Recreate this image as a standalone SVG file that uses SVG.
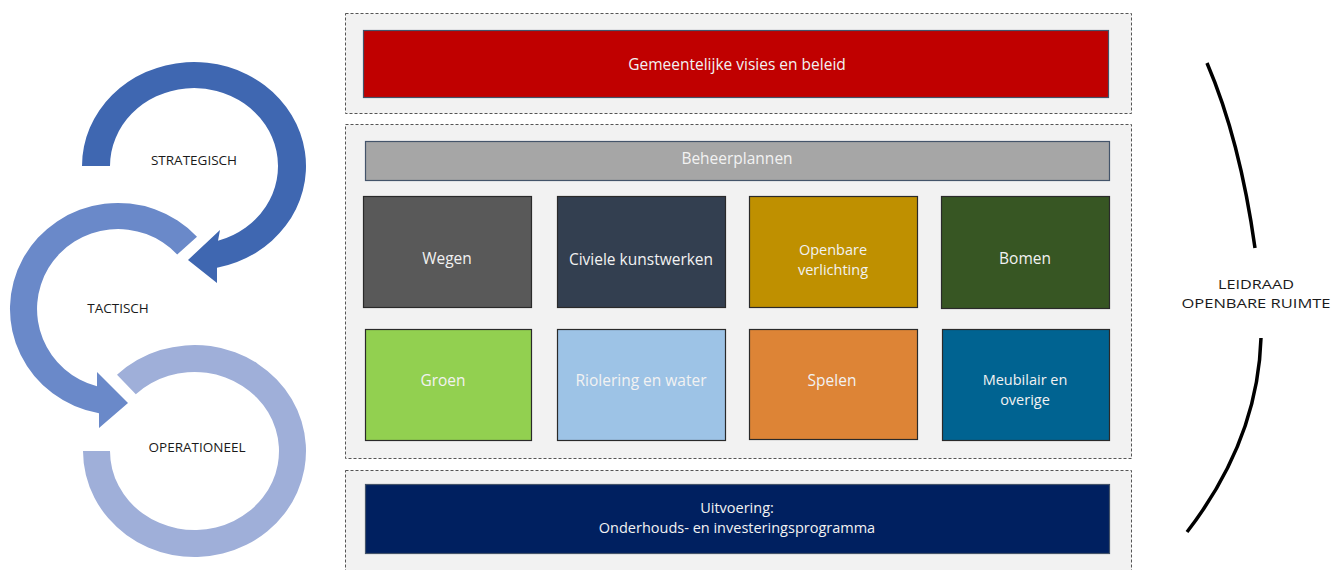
<svg xmlns="http://www.w3.org/2000/svg" width="1338" height="570" viewBox="0 0 1338 570">
<style>
.panel{fill:#f2f2f2;stroke:#555;stroke-width:1;stroke-dasharray:3,2}
.box{stroke:#2a2a2a;stroke-width:1.2}
.hdr{stroke:#44546a;stroke-width:1.2}
.t{font-family:"Open Sans","Liberation Sans",sans-serif;font-size:15.5px;fill:#f2f2f2;text-anchor:middle;dominant-baseline:central}
.t2{font-size:14.5px}
.lbl{font-family:"Open Sans","Liberation Sans",sans-serif;font-size:13.5px;fill:#1a1a1a;text-anchor:middle;dominant-baseline:central}
.brace{fill:none;stroke:#000;stroke-width:3.5;stroke-linecap:butt}
</style>
<rect width="1338" height="570" fill="#ffffff"/>

<g id="cycle">
  <g id="operationeel">
    <path d="M117,374.8 A111.5,106 0 1 1 83,451 L110,451 A84.5,79 0 1 0 135.8,394.2 Z" fill="#9fafd9"/>
    <text class="lbl" x="197" y="447">OPERATIONEEL</text>
  </g>
  <g id="tactisch">
    <path d="M197,236.7 A108,106 0 1 0 99,413.3 L99,428 L128,403 L97,372 L97,386.3 A81,80 0 1 1 177.2,254.4 Z" fill="#6a89c9"/>
    <text class="lbl" x="118" y="308">TACTISCH</text>
  </g>
  <g id="strategisch">
    <path d="M82,166 A112,104 0 1 1 217,267.8 L217,283 L188,260 L220,230 L218,240.8 A84,78 0 1 0 110,166 Z" fill="#3f67b1"/>
    <text class="lbl" x="194" y="160">STRATEGISCH</text>
  </g>
</g>

<g id="panel-visie">
  <rect class="panel" x="345.5" y="13.5" width="786" height="100"/>
  <rect class="hdr" x="363.5" y="30.5" width="745" height="67" fill="#c00000"/>
  <text class="t" x="737" y="64">Gemeentelijke visies en beleid</text>
</g>

<g id="panel-beheer">
  <rect class="panel" x="345.5" y="124.5" width="786" height="334"/>
  <g id="beheerplannen">
    <rect class="hdr" x="365.5" y="141.5" width="744" height="39" fill="#a6a6a6"/>
    <text class="t" x="737" y="158" fill="#ececec">Beheerplannen</text>
  </g>
  <g id="wegen">
    <rect class="box" x="363.5" y="196.5" width="168" height="111" fill="#595959"/>
    <text class="t" x="447" y="258">Wegen</text>
  </g>
  <g id="civiele">
    <rect class="box" x="557.5" y="196.5" width="168" height="111" fill="#333f50"/>
    <text class="t" x="641" y="259">Civiele kunstwerken</text>
  </g>
  <g id="verlichting">
    <rect class="box" x="749.5" y="196.5" width="168" height="111" fill="#bf9000"/>
    <text class="t t2" x="833" y="249">Openbare</text>
    <text class="t t2" x="833" y="269">verlichting</text>
  </g>
  <g id="bomen">
    <rect class="box" x="941.5" y="196.5" width="168" height="112" fill="#375623"/>
    <text class="t" x="1025" y="258">Bomen</text>
  </g>
  <g id="groen">
    <rect class="box" x="365.5" y="329.5" width="166" height="111" fill="#92d050"/>
    <text class="t" x="443" y="380">Groen</text>
  </g>
  <g id="riolering">
    <rect class="box" x="557.5" y="329.5" width="168" height="111" fill="#9dc3e6"/>
    <text class="t" x="641" y="380">Riolering en water</text>
  </g>
  <g id="spelen">
    <rect class="box" x="749.5" y="329.5" width="168" height="110" fill="#dd8436"/>
    <text class="t" x="832" y="380">Spelen</text>
  </g>
  <g id="meubilair">
    <rect class="box" x="942.5" y="329.5" width="167" height="111" fill="#006391"/>
    <text class="t t2" x="1025" y="379">Meubilair en</text>
    <text class="t t2" x="1025" y="399">overige</text>
  </g>
</g>

<g id="panel-uitvoering">
  <rect class="panel" x="345.5" y="470.5" width="786" height="110"/>
  <rect class="hdr" x="365.5" y="484.5" width="744" height="69" fill="#002060" stroke="#8496b0"/>
  <text class="t t2" x="737" y="507">Uitvoering:</text>
  <text class="t t2" x="737" y="527">Onderhouds- en investeringsprogramma</text>
</g>

<g id="connectors">
  <path class="brace" d="M1207,63 Q1240,140 1255,248"/>
  <path class="brace" d="M1261,338 Q1258,440 1187,532"/>
</g>

<g id="leidraad">
  <text class="lbl" x="1256" y="284" font-size="13" textLength="76" lengthAdjust="spacingAndGlyphs">LEIDRAAD</text>
  <text class="lbl" x="1256" y="303" font-size="13" textLength="149" lengthAdjust="spacingAndGlyphs">OPENBARE RUIMTE</text>
</g>
</svg>
